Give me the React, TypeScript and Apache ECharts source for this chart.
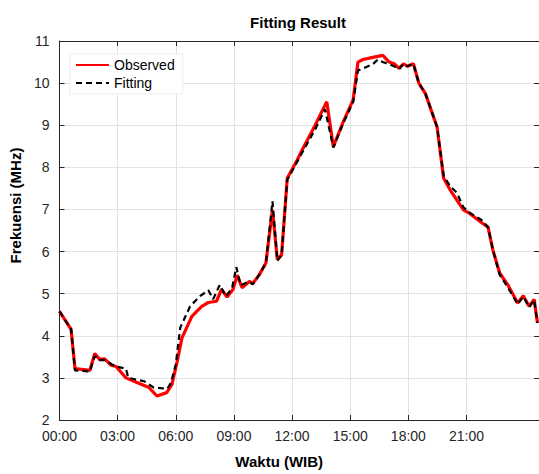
import React, { useEffect, useRef } from "react";
import * as echarts from "echarts";

// time in hours since 00:00, frequency in MHz
const observedHours = [0, 0.6, 0.8, 1.57, 1.82, 2.07, 2.33, 2.67, 2.92, 3.43, 4.0, 4.62, 5.03, 5.53, 5.8, 6.06, 6.32, 6.83, 7.34, 7.68, 8.1, 8.36, 8.65, 8.95, 9.17, 9.42, 9.8, 9.97, 10.31, 10.65, 10.99, 11.24, 11.46, 11.75, 12.26, 12.52, 13.19, 13.79, 14.13, 14.64, 15.15, 15.4, 15.66, 16.17, 16.68, 17.01, 17.27, 17.52, 17.75, 17.95, 18.26, 18.54, 18.88, 19.48, 19.82, 20.16, 20.84, 21.18, 21.77, 22.11, 22.36, 22.71, 23.13, 23.64, 23.93, 24.23, 24.49, 24.66];
const observedValues = [4.58, 4.15, 3.22, 3.18, 3.58, 3.44, 3.45, 3.3, 3.27, 3.0, 2.89, 2.77, 2.57, 2.65, 2.84, 3.36, 3.95, 4.46, 4.7, 4.79, 4.82, 5.1, 4.92, 5.1, 5.44, 5.14, 5.29, 5.24, 5.45, 5.73, 6.99, 5.81, 5.92, 7.74, 8.17, 8.41, 9.0, 9.56, 8.49, 9.08, 9.6, 10.5, 10.56, 10.61, 10.66, 10.5, 10.46, 10.35, 10.46, 10.4, 10.46, 10.0, 9.75, 8.96, 7.74, 7.46, 6.99, 6.9, 6.69, 6.58, 6.04, 5.49, 5.21, 4.78, 4.95, 4.7, 4.86, 4.31];

const fittingHours = [0, 0.6, 0.8, 1.57, 1.82, 2.07, 2.33, 2.67, 2.92, 3.43, 3.55, 4.37, 4.87, 5.56, 5.75, 6.0, 6.23, 6.74, 7.25, 7.68, 7.93, 8.27, 8.58, 8.9, 9.12, 9.35, 9.8, 9.97, 10.31, 10.65, 10.99, 11.24, 11.46, 11.75, 12.26, 12.52, 13.19, 13.7, 14.13, 14.64, 15.15, 15.4, 15.66, 16.17, 16.42, 16.68, 17.01, 17.27, 17.52, 17.75, 17.95, 18.26, 18.54, 18.88, 19.48, 19.82, 20.16, 20.5, 20.84, 21.18, 21.77, 22.11, 22.36, 22.71, 23.13, 23.64, 23.93, 24.23, 24.49, 24.66];
const fittingValues = [4.58, 4.15, 3.18, 3.15, 3.52, 3.42, 3.42, 3.33, 3.27, 3.22, 3.0, 2.92, 2.77, 2.74, 2.88, 3.32, 4.19, 4.7, 4.94, 5.08, 4.87, 5.21, 4.94, 5.12, 5.63, 5.2, 5.29, 5.22, 5.45, 5.73, 7.19, 5.78, 5.92, 7.7, 8.13, 8.35, 8.9, 9.38, 8.47, 9.05, 9.55, 10.3, 10.35, 10.45, 10.56, 10.5, 10.45, 10.4, 10.33, 10.46, 10.4, 10.46, 10.0, 9.75, 8.96, 7.8, 7.55, 7.4, 7.05, 6.92, 6.75, 6.58, 6.04, 5.45, 5.15, 4.75, 4.93, 4.68, 4.85, 4.3];

const xTicks = [0, 3, 6, 9, 12, 15, 18, 21];
const yTicks = [2, 3, 4, 5, 6, 7, 8, 9, 10, 11];

const FONT = "'Liberation Sans', Arial, Helvetica, sans-serif";
const AXIS_COLOR = "#262626";
const GRID_COLOR = "#e2e2e2";

const fmtHour = (v: number) => (v < 10 ? "0" + v : String(v)) + ":00";

export default function App() {
  const ref = useRef<HTMLDivElement>(null);
  useEffect(() => {
    if (!ref.current) return;
    const chart = echarts.init(ref.current, undefined, { renderer: "svg" });
    const baseX = {
      type: "value" as const,
      min: 0,
      max: 24.74,
      interval: 3,
    };
    chart.setOption({
      animation: false,
      backgroundColor: "#ffffff",
      title: {
        text: "Fitting Result",
        left: 293,
        textAlign: "center",
        top: 10,
        textStyle: { fontFamily: FONT, fontSize: 15, fontWeight: "bold", color: "#000" },
      },
      legend: {
        left: 70,
        top: 54,
        orient: "vertical",
        itemWidth: 33,
        itemHeight: 14,
        itemGap: 4,
        padding: [4, 8, 4, 5],
        backgroundColor: "#ffffff",
        borderColor: "#eeeeee",
        borderWidth: 1,
        itemStyle: { opacity: 0 },
        textStyle: { fontFamily: FONT, fontSize: 14, color: "#000" },
        data: ["Observed", "Fitting"],
      },
      grid: { left: 54, top: 41, width: 486, height: 380, containLabel: false },
      xAxis: [
        {
          ...baseX,
          position: "bottom",
          name: "Waktu (WIB)",
          nameLocation: "middle",
          nameGap: 34,
          nameTextStyle: { fontFamily: FONT, fontSize: 15, fontWeight: "bold", color: "#000", padding: [0, 40, 0, 0] },
          axisLine: { show: true, onZero: false, lineStyle: { color: AXIS_COLOR, width: 1 } },
          axisTick: { show: true, inside: true, length: 5, customValues: xTicks, lineStyle: { color: AXIS_COLOR } },
          axisLabel: {
            customValues: xTicks,
            margin: 9,
            fontFamily: FONT,
            fontSize: 14,
            color: AXIS_COLOR,
            formatter: (v: number) => fmtHour(v),
          },
          splitLine: { show: true, lineStyle: { color: GRID_COLOR, width: 1 } },
        },
        {
          ...baseX,
          position: "top",
          axisLine: { show: true, onZero: false, lineStyle: { color: AXIS_COLOR, width: 1 } },
          axisTick: { show: true, inside: true, length: 5, customValues: xTicks, lineStyle: { color: AXIS_COLOR } },
          axisLabel: { show: false },
          splitLine: { show: false },
        },
      ],
      yAxis: [
        {
          type: "value",
          min: 2,
          max: 11,
          interval: 1,
          position: "left",
          name: "Frekuensi (MHz)",
          nameLocation: "middle",
          nameGap: 30,
          nameTextStyle: { fontFamily: FONT, fontSize: 15, fontWeight: "bold", color: "#000", padding: [0, 0, 0, 50] },
          axisLine: { show: true, onZero: false, lineStyle: { color: AXIS_COLOR, width: 1 } },
          axisTick: { show: true, inside: true, length: 5, lineStyle: { color: AXIS_COLOR } },
          axisLabel: {
            margin: 10,
            fontFamily: FONT,
            fontSize: 14,
            color: AXIS_COLOR,
            formatter: (v: number) => (yTicks.includes(v) ? String(v) : ""),
          },
          splitLine: { show: true, lineStyle: { color: GRID_COLOR, width: 1 } },
        },
        {
          type: "value",
          min: 2,
          max: 11,
          interval: 1,
          position: "right",
          axisLine: { show: true, onZero: false, lineStyle: { color: AXIS_COLOR, width: 1 } },
          axisTick: { show: true, inside: true, length: 5, lineStyle: { color: AXIS_COLOR } },
          axisLabel: { show: false },
          splitLine: { show: false },
        },
      ],
      series: [
        {
          name: "Observed",
          type: "line",
          xAxisIndex: 0,
          yAxisIndex: 0,
          symbol: "none",
          data: observedHours.map((h, i) => [h, observedValues[i]]),
          lineStyle: { color: "#ff0000", width: 3.2 },
          itemStyle: { color: "#ff0000" },
          z: 2,
        },
        {
          name: "Fitting",
          type: "line",
          xAxisIndex: 0,
          yAxisIndex: 0,
          symbol: "none",
          data: fittingHours.map((h, i) => [h, fittingValues[i]]),
          lineStyle: { color: "#000000", width: 2.2, type: [6, 4] },
          itemStyle: { color: "#000000" },
          z: 3,
        },
      ],
    });
    return () => chart.dispose();
  }, []);
  return (
    <div
      ref={ref}
      style={{ position: "absolute", left: 0, top: 0, width: 539, height: 474, background: "#fff" }}
    />
  );
}
